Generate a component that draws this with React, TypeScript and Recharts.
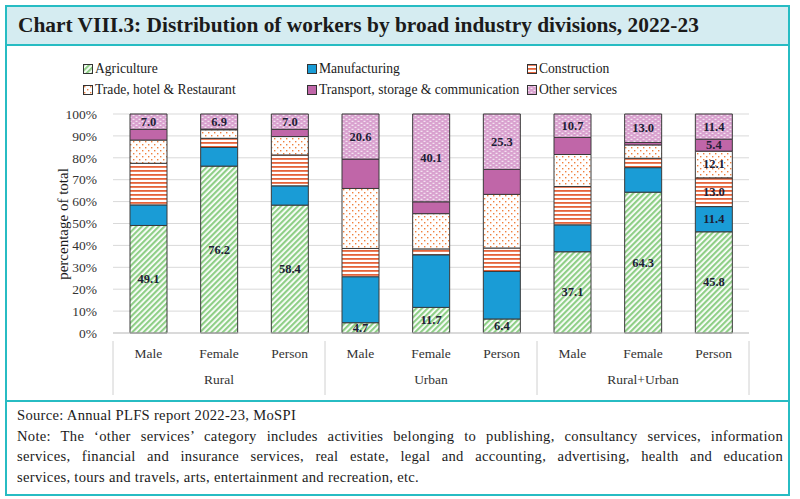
import React from 'react';
import { BarChart, Bar, XAxis, YAxis, CartesianGrid, LabelList } from 'recharts';

const SEXES = ['Male', 'Female', 'Person', 'Male', 'Female', 'Person', 'Male', 'Female', 'Person'];
const GROUPS = ['Rural', 'Rural', 'Rural', 'Urban', 'Urban', 'Urban', 'Rural+Urban', 'Rural+Urban', 'Rural+Urban'];

const AGRICULTURE = [49.1, 76.2, 58.4, 4.7, 11.7, 6.4, 37.1, 64.3, 45.8];
const MANUFACTURING = [9.4, 8.5, 8.8, 21.0, 24.0, 21.7, 12.3, 11.2, 11.4];
const CONSTRUCTION = [19.0, 4.2, 14.1, 12.9, 2.7, 10.7, 17.5, 4.3, 13.0];
const TRADE = [10.6, 3.9, 8.4, 27.4, 16.1, 24.5, 14.6, 6.1, 12.1];
const TRANSPORT = [4.9, 0.3, 3.3, 13.4, 5.4, 11.4, 7.8, 1.1, 5.4];
const OTHER = [7.0, 6.9, 7.0, 20.6, 40.1, 25.3, 10.7, 13.0, 11.4];

const Y_TICKS = [0, 0.1, 0.2, 0.3, 0.4, 0.5, 0.6, 0.7, 0.8, 0.9, 1];

const SERIES = [
  { key: 'agri', name: 'Agriculture', fill: 'url(#pAgri)' },
  { key: 'manuf', name: 'Manufacturing', fill: '#1a9cd6' },
  { key: 'constr', name: 'Construction', fill: 'url(#pConstr)' },
  { key: 'trade', name: 'Trade, hotel & Restaurant', fill: 'url(#pTrade)' },
  { key: 'transport', name: 'Transport, storage & communication', fill: '#c066a8' },
  { key: 'other', name: 'Other services', fill: 'url(#pOther)' },
];

const data = SEXES.map((s, i) => ({
  sex: s,
  group: GROUPS[i],
  agri: AGRICULTURE[i],
  manuf: MANUFACTURING[i],
  constr: CONSTRUCTION[i],
  trade: TRADE[i],
  transport: TRANSPORT[i],
  other: OTHER[i],
}));

const SERIF = '"Liberation Serif", "DejaVu Serif", serif';
const TEAL = '#27bcc3';
const PLOT_LEFT = 113;
const PLOT_RIGHT = 749;
const BAND = (PLOT_RIGHT - PLOT_LEFT) / SEXES.length;

const Patterns = () => (
  <defs>
    <pattern id="pAgri" width="4" height="4" patternUnits="userSpaceOnUse" patternTransform="rotate(45)">
      <rect width="4" height="4" fill="#ffffff" />
      <rect width="2.2" height="4" fill="#8fcf87" />
    </pattern>
    <pattern id="pConstr" width="4" height="4" patternUnits="userSpaceOnUse">
      <rect width="4" height="4" fill="#ffffff" />
      <rect width="4" height="1.8" fill="#e5633a" />
    </pattern>
    <pattern id="pTrade" width="6" height="6" patternUnits="userSpaceOnUse">
      <rect width="6" height="6" fill="#ffffff" />
      <rect x="1" y="1" width="1.4" height="1.4" fill="#f0803e" />
      <rect x="4" y="4" width="1.4" height="1.4" fill="#f0803e" />
    </pattern>
    <pattern id="pOther" width="6" height="4" patternUnits="userSpaceOnUse">
      <rect width="6" height="4" fill="#d9a1cf" />
      <rect x="0.5" y="0.8" width="2" height="0.9" fill="#ffffff" />
      <rect x="3.5" y="2.8" width="2" height="0.9" fill="#ffffff" />
    </pattern>
  </defs>
);

const makeLabel = (always: boolean) => (props: any) => {
  const { x, y, width, height, value, index } = props;
  if (!always && index !== 8) return null;
  return (
    <text
      x={x + width / 2}
      y={y + height / 2}
      textAnchor="middle"
      dominantBaseline="central"
      fontFamily={SERIF}
      fontWeight="bold"
      fontSize={12.5}
      fill="#1e1e36"
    >
      {Number(value).toFixed(1)}
    </text>
  );
};

const XTick = (props: any) => {
  const { x, y, payload, index } = props;
  const left = x - BAND / 2;
  return (
    <g>
      <text x={x} y={y + 17} textAnchor="middle" fontFamily={SERIF} fontSize={13.5} fill="#333">
        {payload.value}
      </text>
      {index % 3 === 1 && (
        <text x={x} y={y + 43} textAnchor="middle" fontFamily={SERIF} fontSize={13.5} fill="#333">
          {GROUPS[index]}
        </text>
      )}
      {index % 3 === 0 && <line x1={left} x2={left} y1={y} y2={y + 56} stroke="#d0d0d0" />}
      {index === SEXES.length - 1 && (
        <line x1={x + BAND / 2} x2={x + BAND / 2} y1={y} y2={y + 56} stroke="#d0d0d0" />
      )}
    </g>
  );
};

const Swatch = ({ fill }: { fill: string }) => (
  <svg width="10" height="10" style={{ marginRight: 2 }}>
    <Patterns />
    <rect x="0.5" y="0.5" width="9" height="9" fill={fill} stroke="#333" strokeWidth="1" />
  </svg>
);

const LEGEND_POS = [
  { x: 83, y: 61 },
  { x: 307, y: 61 },
  { x: 527, y: 61 },
  { x: 83, y: 82 },
  { x: 307, y: 82 },
  { x: 527, y: 82 },
];

const NOTE_LINES = [
  'Note: The \u2018other services\u2019 category includes activities belonging to publishing, consultancy services, information',
  'services, financial and insurance services, real estate, legal and accounting, advertising, health and education',
];

export default function App() {
  return (
    <div style={{ position: 'relative', width: 800, height: 499, background: '#fff', fontFamily: SERIF }}>
      <style>{'body{margin:0}'}</style>
      {/* top box */}
      <div
        style={{
          position: 'absolute', left: 5, top: 5, width: 781, height: 393,
          border: `2px solid ${TEAL}`,
        }}
      />
      <div
        style={{
          position: 'absolute', left: 7, top: 7, width: 781, height: 37,
          background: '#d5ecf1', borderBottom: `2px solid ${TEAL}`,
        }}
      />
      <div
        style={{
          position: 'absolute', left: 18, top: 13, fontSize: 21.4, fontWeight: 'bold', color: '#1b1b1b',
          whiteSpace: 'nowrap',
        }}
      >
        Chart VIII.3: Distribution of workers by broad industry divisions, 2022-23
      </div>
      {/* bottom box */}
      <div
        style={{
          position: 'absolute', left: 5, top: 400, width: 781, height: 92,
          border: `2px solid ${TEAL}`,
        }}
      />
      <div
        style={{
          position: 'absolute', left: 17, top: 405, width: 766, fontSize: 14.6, lineHeight: '20.5px',
          color: '#1b1b1b', letterSpacing: 0.3,
        }}
      >
        <div>Source: Annual PLFS report 2022-23, MoSPI</div>
        {NOTE_LINES.map((l, i) => (
          <div key={i} style={{ textAlign: 'justify', textAlignLast: 'justify', whiteSpace: 'nowrap' }}>{l}</div>
        ))}
        <div>services, tours and travels, arts, entertainment and recreation, etc.</div>
      </div>

      {/* legend */}
      {SERIES.map((s, i) => (
        <div
          key={s.key}
          style={{
            position: 'absolute', left: LEGEND_POS[i].x, top: LEGEND_POS[i].y, display: 'flex',
            alignItems: 'center', fontSize: 13.6, color: '#1b1b1b', whiteSpace: 'nowrap',
          }}
        >
          <Swatch fill={s.fill} />
          <span>{s.name}</span>
        </div>
      ))}

      <div style={{ position: 'absolute', left: 0, top: 50 }}>
        <BarChart
          width={800}
          height={345}
          data={data}
          stackOffset="expand"
          margin={{ top: 64, right: 800 - PLOT_RIGHT, bottom: 0, left: 53 }}
        >
          <Patterns />
          <CartesianGrid vertical={false} stroke="#d9d9d9" />
          <XAxis
            dataKey="sex"
            interval={0}
            height={62}
            tickLine={false}
            axisLine={{ stroke: '#c8c8c8' }}
            tick={<XTick />}
          />
          <YAxis
            width={60}
            domain={[0, 1]}
            ticks={Y_TICKS}
            interval={0}
            axisLine={false}
            tickLine={false}
            tickMargin={10}
            tickFormatter={(v: number) => `${Math.round(v * 100)}%`}
            tick={{ fontFamily: SERIF, fontSize: 13.5, fill: '#333' }}
            label={{
              content: () => (
                <text
                  transform="translate(68,174) rotate(-90)"
                  textAnchor="middle"
                  fontFamily={SERIF}
                  fontSize={15}
                  fill="#1b1b1b"
                >
                  percentage of total
                </text>
              ),
            }}
          />
          {SERIES.map((s) => (
            <Bar
              key={s.key}
              dataKey={s.key}
              name={s.name}
              stackId="a"
              fill={s.fill}
              stroke="#3a3a3a"
              strokeWidth={1}
              barSize={37}
              isAnimationActive={false}
            >
              <LabelList
                dataKey={s.key}
                content={makeLabel(s.key === 'agri' || s.key === 'other')}
              />
            </Bar>
          ))}
        </BarChart>
      </div>
    </div>
  );
}
